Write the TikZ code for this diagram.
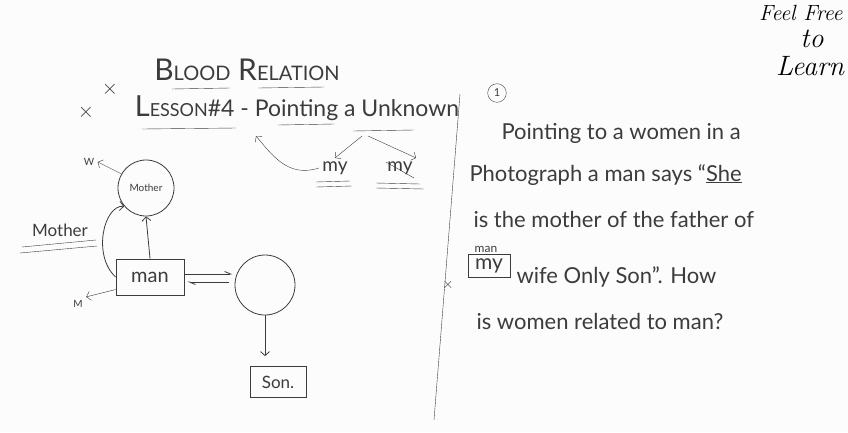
\documentclass[tikz,border=0pt]{standalone}
\usepackage{fontspec}
\newfontfamily\hand{Lato}
\usetikzlibrary{arrows.meta}
\definecolor{ink}{HTML}{3C3C3C}
\definecolor{board}{HTML}{FCFCFC}
\tikzstyle{edge} = [draw=ink,thick]
\tikzstyle{post} = [edge,-{Straight Barb[length=4pt,width=9pt]}]
\tikzstyle{harp} = [edge,-{Straight Barb[left,length=6pt,width=5pt]}]
\tikzstyle{ring} = [edge,circle,inner sep=0pt]
\tikzstyle{frame} = [edge,rectangle,inner sep=0pt]
\tikzstyle{line} = [anchor=base west,font=\hand\fs{22}]
\newcommand{\fs}[1]{\fontsize{#1}{#1}\selectfont}

\begin{document}
\begin{tikzpicture}[x=1pt,y=-1pt,font=\hand,text=ink]
    \fill[board] (0,0) rectangle (848,432);
    \useasboundingbox (0,0) rectangle (848,432);

    % title
    \node[font=\hand\fs{30}] (T) at (247,70) {B{\fs{20}LOOD} R{\fs{20}ELATION}};
    \node[font=\hand\fs{23}] (L) at (297,108) {{\fs{29}L}{\fs{18}ESSON}\#4 - Pointing a Unknown};
    \draw[edge,thin] (172,89) -- (230,88);
    \draw[edge,thin] (258,88) -- (324,87);
    \draw[edge,thin] (142,129) -- (236,128);
    \draw[edge,thin] (278,125) -- (334,124);
    \draw[edge,thin] (353,131) -- (414,130);
    \node (C1) at (110,89) {\fs{22}$\times$};
    \node (C2) at (86,112) {\fs{22}$\times$};

    % my / my
    \node[font=\hand\fs{19}] (MY1) at (335,168) {my};
    \node[font=\hand\fs{19}] (MY2) at (400,168) {my};
    \draw[edge,thin] (316,182) -- (350,181);
    \draw[edge,thin] (316,187) -- (352,186);
    \draw[edge,thin] (376,183) -- (420,184);
    \draw[edge,thin] (376,188) -- (424,189);
    \draw[edge,thin] (386,162) -- (414,178);
    \coordinate (A) at (362,136);
    \draw[post,thin] (A) -- (MY1.north);
    \draw[post,thin] ([xshift=6pt]A) -- (MY2.north east);
    \draw[post,thin] (MY1.west) .. controls (288,178) and (272,155) .. (256,136);

    % divider
    \draw[edge,thin] (460,94) -- (434,420);
    \node (C3) at (448,285) {\fs{14}$\times$};

    % left family tree
    \node[ring,minimum size=56pt] (MO) at (146,188) {\fs{10}Mother};
    \node (W) at (89,162) {\fs{10}W};
    \draw[post,thin] (MO.150) -- (W.east);
    \node[font=\hand\fs{17}] (ML) at (60,230) {Mother};
    \draw[edge,thin] (22,247) -- (96,240);
    \draw[edge,thin] (20,253) -- (97,246);
    \node[frame,minimum width=68pt,minimum height=36pt] (MAN) at (150,277) {\fs{20}man};
    \node (M) at (78,304) {\fs{10}M};
    \draw[post] (MAN.north) -- (MO.south);
    \draw[post] (MAN.west) .. controls (92,255) and (104,205) .. (MO.220);
    \draw[post,thin] (MAN.200) -- (M.north east);
    \node[ring,minimum size=60pt] (X) at (265,285) {};
    \draw[harp] ([yshift=3pt]MAN.east) -- ([yshift=3pt,xshift=-2pt]MAN.east -| X.west);
    \draw[harp] ([yshift=-5pt,xshift=-6pt]MAN.east -| X.west) -- ([yshift=-5pt,xshift=3pt]MAN.east);
    \node[frame,minimum width=56pt,minimum height=31pt] (SON) at (278,382) {\fs{17}Son.};
    \draw[post] (X.south) -- ([yshift=10pt]SON.north -| X.south);

    % question
    \node[circle,draw=ink,thin,inner sep=3pt] (N1) at (497,93) {\fs{11}1};
    \node[line] (Q1) at (498,139) {Pointing to a women in a};
    \node[line] (Q2) at (466,181) {Photograph a man says “\underline{She}};
    \node[line] (Q3) at (470,227) {is the mother of the father of};
    \node[frame,minimum width=42pt,minimum height=23pt,font=\hand\fs{21}] (Q4a) at (489,266) {my};
    \node[font=\hand\fs{12}] (Q4m) at (486,249) {man};
    \node[line] (Q4) at (513,283) {wife Only Son”. How};
    \node[line] (Q5) at (473,329) {is women related to man?};

    % logo
    \node[font=\itshape\fs{22},text=black,anchor=east] (F1) at (846,13) {Feel Free};
    \node[font=\itshape\fs{28},text=black] (F2) at (812,39) {to};
    \node[font=\itshape\fs{28},text=black] (F3) at (810,66) {Learn};
\end{tikzpicture}
\end{document}
